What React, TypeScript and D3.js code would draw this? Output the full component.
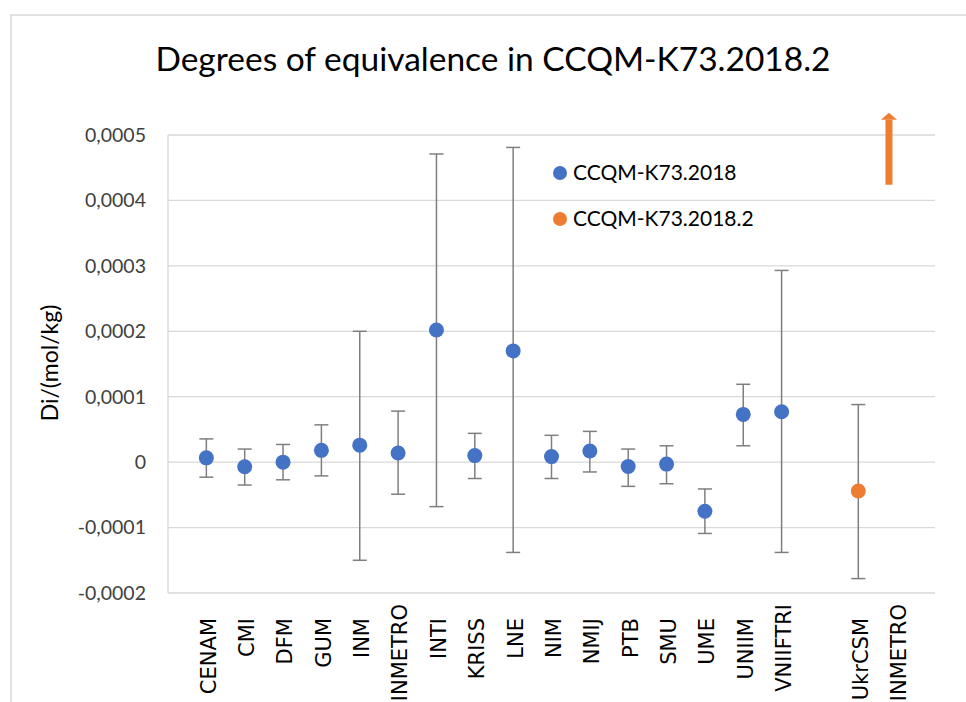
import * as d3 from "d3";
import React from "react";

const CATEGORIES = ["CENAM", "CMI", "DFM", "GUM", "INM", "INMETRO", "INTI", "KRISS", "LNE", "NIM", "NMIJ", "PTB", "SMU", "UME", "UNIIM", "VNIIFTRI", "UkrCSM", "INMETRO"];
const CAT_X = [1, 2, 3, 4, 5, 6, 7, 8, 9, 10, 11, 12, 13, 14, 15, 16, 18, 19];

// series CCQM-K73.2018 (x = 1..16)
const K2018_X = [1, 2, 3, 4, 5, 6, 7, 8, 9, 10, 11, 12, 13, 14, 15, 16];
const K2018_DI = [6.6e-6, -7e-6, 0, 1.8e-5, 2.6e-5, 1.4e-5, 2.02e-4, 1.0e-5, 1.7e-4, 8.5e-6, 1.7e-5, -6.6e-6, -3e-6, -7.5e-5, 7.3e-5, 7.7e-5];
const K2018_HI = [3.55e-5, 2.0e-5, 2.7e-5, 5.7e-5, 2.0e-4, 7.8e-5, 4.71e-4, 4.4e-5, 4.81e-4, 4.1e-5, 4.7e-5, 2.0e-5, 2.5e-5, -4.1e-5, 1.19e-4, 2.93e-4];
const K2018_LO = [-2.3e-5, -3.5e-5, -2.7e-5, -2.1e-5, -1.5e-4, -4.9e-5, -6.8e-5, -2.5e-5, -1.38e-4, -2.5e-5, -1.5e-5, -3.7e-5, -3.3e-5, -1.09e-4, 2.5e-5, -1.38e-4];

// series CCQM-K73.2018.2
const K2018_2_X = [18];
const K2018_2_DI = [-4.4e-5];
const K2018_2_HI = [8.8e-5];
const K2018_2_LO = [-1.78e-4];

// INMETRO off-scale arrow
const ARROW_X = 18.8;
const ARROW_FROM = 0.000424;
const ARROW_TO = 0.000534;

const Y_TICKS = [-0.0002, -0.0001, 0, 0.0001, 0.0002, 0.0003, 0.0004, 0.0005];
const SERIES_NAMES = ["CCQM-K73.2018", "CCQM-K73.2018.2"];
const COLORS = ["#4472C4", "#ED7D31"];

const W = 966;
const H = 702;
const FONT = "Lato, 'Open Sans', sans-serif";

export default function App() {
  const plot = { left: 168, right: 935, top: 135, bottom: 593 };
  const x = d3.scaleLinear().domain([0, 20]).range([plot.left, plot.right]);
  const y = d3.scaleLinear().domain([-0.0002, 0.0005]).range([plot.bottom, plot.top]);
  const fmt = (v: number) => (v === 0 ? "0" : d3.format(".4f")(v).replace(".", ",").replace("−", "-"));

  const series = [
    { xs: K2018_X, di: K2018_DI, hi: K2018_HI, lo: K2018_LO, color: COLORS[0] },
    { xs: K2018_2_X, di: K2018_2_DI, hi: K2018_2_HI, lo: K2018_2_LO, color: COLORS[1] },
  ];
  const cap = 7;

  const ax = x(ARROW_X);
  const aTop = y(ARROW_TO);
  const aBot = y(ARROW_FROM);
  const headH = 7;

  return (
    <svg width={W} height={H} style={{ position: "absolute", left: 0, top: 0, background: "#fff" }}>
      <rect x={11} y={15} width={W} height={H} fill="#fff" stroke="#d9d9d9" strokeWidth={1.5} />

      <text x={493} y={71} textAnchor="middle" fontFamily={FONT} fontSize={33.5} fill="#000">
        Degrees of equivalence in CCQM-K73.2018.2
      </text>

      {/* grid */}
      {Y_TICKS.map(t => (
        <line key={t} x1={plot.left} x2={plot.right} y1={y(t)} y2={y(t)} stroke="#d9d9d9" strokeWidth={1.3} />
      ))}
      <line x1={plot.left} x2={plot.left} y1={plot.top} y2={plot.bottom} stroke="#d9d9d9" strokeWidth={1.3} />

      {Y_TICKS.map(t => (
        <text key={t} x={146} y={y(t)} dy="0.35em" textAnchor="end" fontFamily={FONT} fontSize={19.5} fill="#404040">
          {fmt(t)}
        </text>
      ))}

      <text transform="translate(50,363) rotate(-90)" dy="0.35em" textAnchor="middle" fontFamily={FONT} fontSize={23} fill="#000">
        Di/(mol/kg)
      </text>

      {CATEGORIES.map((c, i) => (
        <text key={i} transform={`translate(${x(CAT_X[i]) + 2},${c.length > 6 ? 604 : 618}) rotate(-90)`} dy="0.35em" textAnchor="end"
          fontFamily="'DejaVu Sans', sans-serif" fontSize={21} fill="#000">
          {c}
        </text>
      ))}

      {/* error bars */}
      {series.map((s, si) => s.xs.map((xv, i) => (
        <g key={`${si}-${i}`} stroke="#7f7f7f" strokeWidth={1.5}>
          <line x1={x(xv)} x2={x(xv)} y1={y(s.hi[i])} y2={y(s.lo[i])} />
          <line x1={x(xv) - cap} x2={x(xv) + cap} y1={y(s.hi[i])} y2={y(s.hi[i])} />
          <line x1={x(xv) - cap} x2={x(xv) + cap} y1={y(s.lo[i])} y2={y(s.lo[i])} />
        </g>
      )))}
      {series.map((s, si) => s.xs.map((xv, i) => (
        <circle key={`p${si}-${i}`} cx={x(xv)} cy={y(s.di[i])} r={7.5} fill={s.color} />
      )))}

      {/* arrow */}
      <rect x={ax - 3.5} y={aTop + headH} width={7} height={aBot - aTop - headH} fill={COLORS[1]} />
      <path d={`M${ax - 8},${aTop + headH} L${ax},${aTop} L${ax + 8},${aTop + headH} Z`} fill={COLORS[1]} />

      {/* legend */}
      {SERIES_NAMES.map((n, i) => (
        <g key={n} transform={`translate(560,${173 + i * 46})`}>
          <circle r={7} fill={COLORS[i]} />
          <text x={13} dy="0.35em" fontFamily={FONT} fontSize={21} fill="#000">{n}</text>
        </g>
      ))}
    </svg>
  );
}
